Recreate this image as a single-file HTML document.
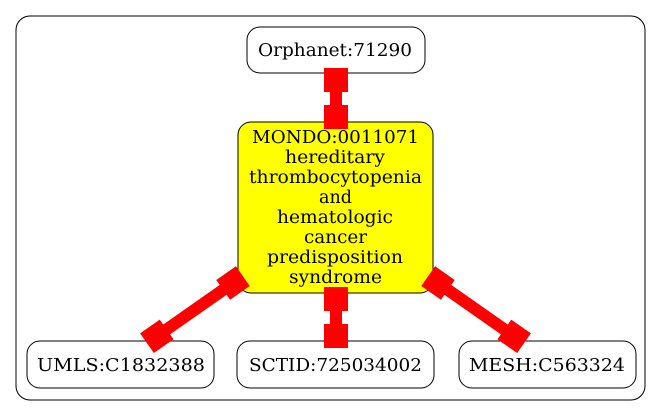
<!DOCTYPE html>
<html><head><meta charset="utf-8"><style>
html,body{margin:0;padding:0;background:#fff;width:661px;height:416px;overflow:hidden}
svg{display:block}
text{font-family:"DejaVu Serif","Liberation Serif",serif;font-size:17.5px;fill:#000}
</style></head><body>
<svg width="661" height="416" viewBox="0 0 661 416" xmlns="http://www.w3.org/2000/svg">
<rect x="16" y="16" width="629" height="384" rx="14" fill="#fff" stroke="#000" stroke-width="1"/>
<!-- nodes -->
<rect x="247" y="27" width="178" height="46" rx="13" fill="#fff" stroke="#000"/>
<text x="258" y="56" textLength="154" lengthAdjust="spacingAndGlyphs">Orphanet:71290</text>
<rect x="238" y="122" width="195" height="171" rx="13" fill="#ff0" stroke="#000"/>
<text x="252" y="143" textLength="167" lengthAdjust="spacingAndGlyphs">MONDO:0011071</text>
<text x="285" y="163" textLength="100" lengthAdjust="spacingAndGlyphs">hereditary</text>
<text x="249" y="183" textLength="173" lengthAdjust="spacingAndGlyphs">thrombocytopenia</text>
<text x="319" y="203" textLength="33" lengthAdjust="spacingAndGlyphs">and</text>
<text x="277" y="223" textLength="116" lengthAdjust="spacingAndGlyphs">hematologic</text>
<text x="304" y="243" textLength="63" lengthAdjust="spacingAndGlyphs">cancer</text>
<text x="267" y="263" textLength="136" lengthAdjust="spacingAndGlyphs">predisposition</text>
<text x="289" y="283" textLength="93" lengthAdjust="spacingAndGlyphs">syndrome</text>
<rect x="27" y="341" width="187" height="47" rx="13" fill="#fff" stroke="#000"/>
<text x="37" y="371" textLength="168" lengthAdjust="spacingAndGlyphs">UMLS:C1832388</text>
<rect x="237" y="341" width="197" height="47" rx="13" fill="#fff" stroke="#000"/>
<text x="249" y="371" textLength="173" lengthAdjust="spacingAndGlyphs">SCTID:725034002</text>
<rect x="459" y="341" width="177" height="47" rx="13" fill="#fff" stroke="#000"/>
<text x="469" y="371" textLength="156" lengthAdjust="spacingAndGlyphs">MESH:C563324</text>
<!-- edges -->
<g fill="#f00">
<rect x="324" y="68" width="24" height="24"/>
<rect x="330" y="90" width="12" height="18"/>
<rect x="324" y="105" width="24" height="24"/>
<rect x="324" y="287" width="24" height="24"/>
<rect x="330" y="309" width="12" height="18"/>
<rect x="324" y="324" width="24" height="24"/>
<g transform="translate(233,283) rotate(-35)">
<rect x="-12" y="-12" width="24" height="24"/>
<rect x="-92" y="-6" width="84" height="12"/>
<rect x="-105" y="-12" width="24" height="24"/>
</g>
<g transform="translate(438,283) rotate(35)">
<rect x="-12" y="-12" width="24" height="24"/>
<rect x="8" y="-6" width="84" height="12"/>
<rect x="81" y="-12" width="24" height="24"/>
</g>
</g>
</svg>
</body></html>
